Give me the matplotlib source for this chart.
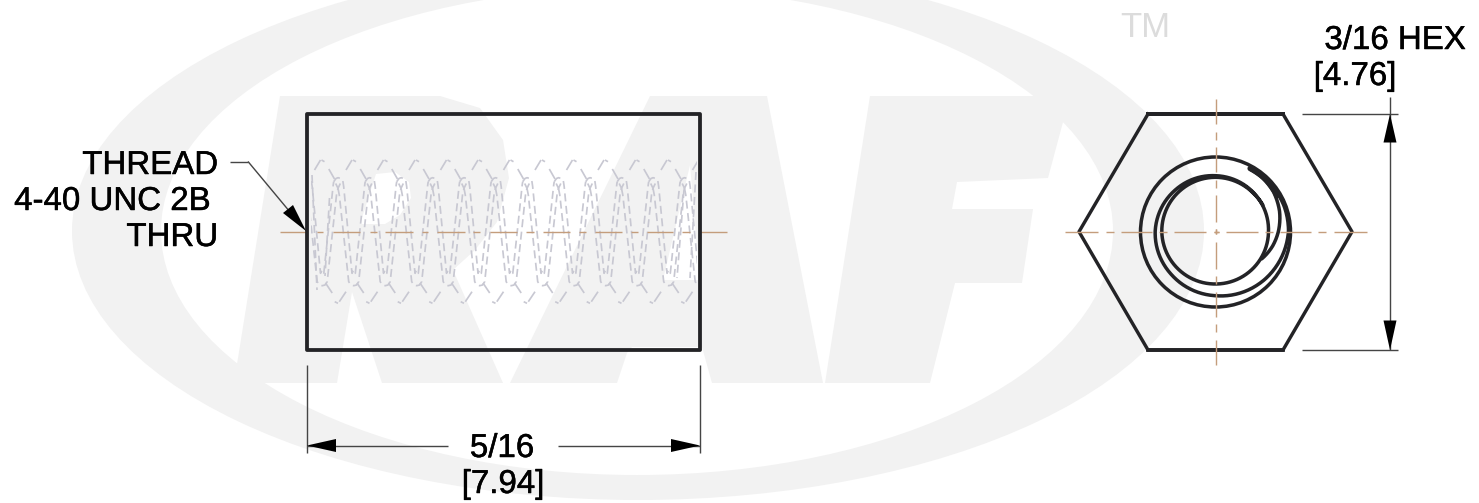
import numpy as np
import matplotlib
matplotlib.use("Agg")
import matplotlib.pyplot as plt
from matplotlib.patches import Ellipse, Polygon, Circle
import matplotlib.patheffects as pe

plt.rcParams['font.family'] = ['Liberation Sans', 'DejaVu Sans']
plt.rcParams['lines.scale_dashes'] = False

def px(v):
    return v * 0.72

# --- watermark outlines (picture pixels) ---
ring_outer = (638, 231, 566, 269)
ring_inner = (637, 231, 476, 244)
letter_R = [(280,96),(440,96),(480,108),(503,140),(509,178),(497,222),(475,250),(453,270),
            (503,383),(382,383),(352,292),(337,383),(234,383)]
letter_R_hole = [(376,174),(395,172),(409,182),(411,198),(400,215),(385,224),(360,224)]
letter_A = [(650,96),(767,96),(823,383),(712,383),(702,347),(632,347),(627,353),(617,383),(510,383)]
letter_A_hole = [(690,165),(663,280),(700,280)]
letter_F = [(870,96),(1070,96),(1048,178),(957,182),(952,209),(1033,209),(1022,283),
            (955,283),(930,383),(825,383)]

# --- body and thread ---
body_x = [307, 700]
body_y = [114, 350]
thread_peak_x = [306.5, 338, 369.5, 401, 432.5, 464, 495.5, 527, 558.5, 590, 621.5, 653, 684.5]
thread_wave_a = [(-4.3,181.7),(-2,178.5),(0,177.7),(3,178.5),(4.7,180),(5.7,186.7),(14,273.3),
                 (15.7,270),(17.3,273.3),(26.7,185),(27.2,181.7)]
thread_wave_b = [(0,188.3),(1.3,195),(10.7,281.7),(13,285),(15.7,285.7),(18.5,285),(20.7,281.7),
                 (30,195),(31.5,188.3)]
thread_v_top = [(-2.3,183.5),(0,188.3),(2.3,183.5)]
thread_marks = [
    [(22.3,169),(28,179)],
    [(8,170),(14,160)],
    [(15,160),(18,161.7)],
    [(19,283),(25.7,293)],
    [(28.2,301.7),(31.5,303.3)],
    [(32.8,301.7),(39.5,291.7)],
]
thread_extra = [
    [(329.5,198),(325,276)],
    [(684,190),(677,278)],
    [(696,172),(690,278)],
    [(312,175),(317,290)],
]

# --- centre lines ---
axis_segments = [(280,307),(316.7,323.3),(333,360),(370,376.7),(385,413),(421.7,428.3),(437,465),
                 (473.3,480),(490,517),(526,534),(543,570),(579,585.6),(595,622),(631,638),
                 (647,673),(682,690),(700,727)]
hex_h_offsets = [(-2.5,2.5),(10,42),(49,57),(64,95),(102,110),(118,151)]
hex_v_offsets = [(-2.5,2.5),(10,37),(44,52),(60,85),(92,100),(108,133)]
hex_center = (1216, 231.5)

# --- hexagon and nut circles ---
hex_x = [1148, 1283, 1352, 1283, 1148, 1079]
hex_y = [114, 114, 231.7, 350, 350, 231.7]
outer_circle = (1215.5, 232, 75)
spiral_deg = [61, 45, 20, 0, -45, -90, -135, -180, -225, -270, -315, -360, -405, -450, -495, -540,
              -585, -630, -675, -691]
spiral_r = [71, 72, 73, 73, 69, 64.7, 62, 60.3, 57.5, 55.3, 54, 53, 53, 53, 53.3, 53.7, 53.7, 53.7, 53.5, 54]
strand_deg = [-31, -15, 0, 17, 34, 50, 61]
strand_r = [54, 59, 63, 67, 70, 71, 71]
thick_deg = [30, 45, 61]
thick_r = [71, 72, 71.5]

# --- labels ---
thread_labels = ["THREAD", "4-40 UNC 2B", "THRU"]
dim_labels = ["5/16", "[7.94]", "3/16 HEX", "[4.76]"]
mark_label = "TM"

GRAY = '#f2f2f2'
INK = '#232326'
DIM = '#454545'
TAN = '#c49d7c'
THREADC = '#c8c8d2'

fig = plt.figure(figsize=(14.79, 5.03), dpi=100)
ax = fig.add_axes([0, 0, 1, 1])
ax.set_xlim(0, 1479)
ax.set_ylim(503, 0)
ax.axis('off')

# watermark
cx, cy, a, b = ring_outer
ax.add_patch(Ellipse((cx, cy), 2*a, 2*b, fc=GRAY, ec='none', zorder=1))
cx, cy, a, b = ring_inner
ax.add_patch(Ellipse((cx, cy), 2*a, 2*b, fc='white', ec='none', zorder=1.1))
for poly in (letter_R, letter_A, letter_F):
    ax.add_patch(Polygon(poly, closed=True, fc=GRAY, ec='none', zorder=1.2))
for poly in (letter_R_hole, letter_A_hole):
    ax.add_patch(Polygon(poly, closed=True, fc='white', ec='none', zorder=1.3))

# thread
clip = plt.Rectangle((311, 150), 386, 170, transform=ax.transData, fc='none', ec='none')
ax.add_patch(clip)
dash = (0, (px(8), px(4.5)))
def thread_line(pts, x0, ls):
    xs = [x0 + p[0] for p in pts]
    ys = [p[1] for p in pts]
    l, = ax.plot(xs, ys, color=THREADC, lw=px(1.7), ls=ls, zorder=2, solid_capstyle='butt',
                 dash_capstyle='butt')
    l.set_clip_path(clip)
for x0 in thread_peak_x:
    thread_line(thread_wave_a, x0, dash)
    thread_line(thread_wave_b, x0, dash)
    thread_line(thread_v_top, x0, '-')
    for seg in thread_marks:
        thread_line(seg, x0, '-')
for seg in thread_extra:
    thread_line(seg, 0, dash)

# centre lines
for x1, x2 in axis_segments:
    ax.plot([x1, x2], [231.5, 231.5], color=TAN, lw=px(1.4), zorder=3, solid_capstyle='butt')
hx, hy = hex_center

# body
ax.add_patch(plt.Rectangle((body_x[0], body_y[0]), body_x[1]-body_x[0], body_y[1]-body_y[0],
                           fc='none', ec=INK, lw=px(3.8), joinstyle='round', zorder=4))

# hexagon
xs = hex_x + hex_x[:1]
ys = hex_y + hex_y[:1]
ax.plot(xs, ys, color=INK, lw=px(3.4), solid_joinstyle='round', zorder=4)
ax.plot(hex_x[:2], hex_y[:2], color=INK, lw=px(4.0), zorder=4)
ax.plot(hex_x[3:5], hex_y[3:5], color=INK, lw=px(3.8), zorder=4)

# nut circles
ocx, ocy, ocr = outer_circle
ax.add_patch(Circle((ocx, ocy), ocr, fc='none', ec=INK, lw=px(3.5), zorder=4))
def polar_curve(deg, r, lw):
    t = np.linspace(deg[0], deg[-1], 600)
    if deg[0] > deg[-1]:
        rr = np.interp(-t, -np.array(deg), r)
    else:
        rr = np.interp(t, deg, r)
    ax.plot(ocx + rr*np.cos(np.radians(t)), ocy - 1 - rr*np.sin(np.radians(t)),
            color=INK, lw=lw, zorder=4, solid_capstyle='round')
polar_curve(spiral_deg, spiral_r, px(3.5))
polar_curve(strand_deg, strand_r, px(3.5))
polar_curve(thick_deg, thick_r, px(5.5))

# hex centre lines (on top of the nut)
for s1, s2 in hex_h_offsets:
    for sign in (1, -1):
        ax.plot([hx+sign*s1, hx+sign*s2], [hy, hy], color=TAN, lw=px(1.4), zorder=5, solid_capstyle='butt')
for s1, s2 in hex_v_offsets:
    for sign in (1, -1):
        ax.plot([hx, hx], [hy+sign*s1, hy+sign*s2], color=TAN, lw=px(1.4), zorder=5, solid_capstyle='butt')

# dimensions
def dim(xs, ys):
    ax.plot(xs, ys, color=DIM, lw=px(1.4), zorder=6, solid_capstyle='butt')
def head(tip, base, hw, vertical=False):
    if vertical:
        pts = [(tip[0], tip[1]), (base[0]-hw, base[1]), (base[0]+hw, base[1])]
    else:
        pts = [(tip[0], tip[1]), (base[0], base[1]-hw), (base[0], base[1]+hw)]
    ax.add_patch(Polygon(pts, closed=True, fc='black', ec='none', zorder=7))

dim([307, 307], [365, 453])
dim([700, 700], [365, 453])
dim([307, 448], [445.5, 445.5])
dim([558, 700], [445.5, 445.5])
head((307, 445.5), (336, 445.5), 6.5)
head((700, 445.5), (671, 445.5), 6.5)

dim([1302, 1398], [114, 114])
dim([1302, 1398], [350, 350])
dim([1390, 1390], [97, 350])
head((1390, 114), (1390, 142.5), 6.5, True)
head((1390, 350), (1390, 320.5), 6.5, True)

dim([230, 248], [161.5, 161.5])
dim([248, 300], [161.5, 224])
ax.add_patch(Polygon([(306, 231), (283, 213), (293, 205)], closed=True, fc='black', ec='none', zorder=7))

# text
FS = 23.8
stroke = [pe.withStroke(linewidth=0.35, foreground='black')]
def label(x, y, s, ha):
    ax.text(x, y, s, ha=ha, va='baseline', fontsize=FS, color='black', zorder=8, path_effects=stroke)
label(218, 174, thread_labels[0], 'right')
label(210, 210, thread_labels[1], 'right')
label(218, 246, thread_labels[2], 'right')
label(502, 457, dim_labels[0], 'center')
label(503, 493, dim_labels[1], 'center')
label(1395, 49, dim_labels[2], 'center')
label(1355, 85, dim_labels[3], 'center')
ax.text(1145, 37, mark_label, ha='center', va='baseline', fontsize=25, color='#dcdcdc', zorder=2)

fig.savefig('out.png', dpi=100, facecolor='white')
